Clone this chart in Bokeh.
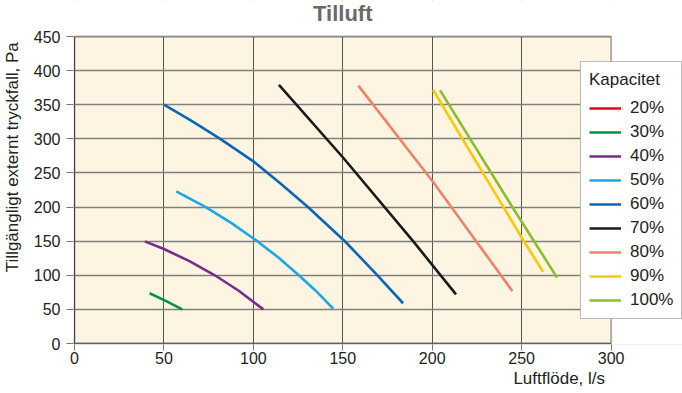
from bokeh.plotting import figure
from bokeh.models import Range1d, FixedTicker, BoxAnnotation, LinearAxis, Label
from bokeh.embed import file_html
from bokeh.resources import INLINE

# ---- data ----
cap_labels = ["20%", "30%", "40%", "50%", "60%", "70%", "80%", "90%", "100%"]
# 20 % has no curve inside the chart in the reference (legend entry only)
x20 = [float("nan")]
y20 = [float("nan")]
x30 = [42.0, 51.0, 60.2]
y30 = [73.6, 62.5, 50.0]
x40 = [39.3, 50.0, 64.0, 78.5, 92.0, 105.6]
y40 = [149.7, 138.5, 121.0, 100.0, 77.0, 50.0]
x50 = [56.9, 73.4, 88.0, 102.2, 114.0, 125.4, 135.0, 144.6]
y50 = [223.0, 200.0, 176.0, 150.0, 126.0, 100.0, 77.0, 51.0]
x60 = [50.0, 65.0, 81.5, 100.0, 115.0, 130.5, 151.3, 169.0, 183.7]
y60 = [350.0, 327.0, 300.0, 267.0, 235.0, 200.0, 149.5, 101.0, 59.0]
x70 = [114.3, 150.0, 189.3, 213.3]
y70 = [379.0, 273.0, 150.0, 72.0]
x80 = [158.7, 200.4, 244.8]
y80 = [378.0, 237.0, 77.0]
x90 = [200.4, 251.0, 262.0]
y90 = [372.0, 151.0, 105.0]
x100 = [204.4, 244.8, 269.8]
y100 = [371.0, 200.0, 96.6]

x_ticks = [0, 50, 100, 150, 200, 250, 300]
y_ticks = [0, 50, 100, 150, 200, 250, 300, 350, 400, 450]
x_min, x_max = 0, 300
y_min, y_max = 0, 450
x_title = "Luftflöde, l/s"
y_title = "Tillgängligt externt tryckfall, Pa"

series_x = [x20, x30, x40, x50, x60, x70, x80, x90, x100]
series_y = [y20, y30, y40, y50, y60, y70, y80, y90, y100]
colors = ["#e3061b", "#00924a", "#7d2a8e", "#1ea5e4", "#0a66b4",
          "#1a1a1a", "#f0826a", "#ffc800", "#8cbd2a"]

FONT = "Liberation Sans"
CREAM = "#fdf4e1"
TXT = "#222222"

# layout: plot box 541 x 306 px; frame extended 1px around it, to the top
# and to the right edge so the title and legend can sit as in the reference
W, H = 682, 393
box_left, box_right, box_top, box_bottom = 69, 610, 36, 343
sx = (box_right - box_left) / (x_max - x_min)
sy = (box_bottom - box_top) / (y_max - y_min)
fl, fr, ft, fb = box_left - 1, W, 0, box_bottom + 1
xr = Range1d(x_min - (box_left - fl) / sx, x_max + (fr - box_right) / sx)
yr = Range1d(y_min - (fb - box_bottom) / sy, y_max + (box_top - ft) / sy)

p = figure(width=W, height=H, output_backend="svg", toolbar_location=None,
           x_range=xr, y_range=yr,
           min_border_left=fl, min_border_right=W - fr, min_border_top=ft,
           min_border_bottom=H - fb)

p.border_fill_color = "#ffffff"
p.background_fill_color = "#ffffff"
p.outline_line_color = None

xa, ya = p.xaxis[0], p.yaxis[0]
for ax in (xa, ya):
    ax.axis_line_color = None
    ax.major_tick_line_color = "#777777"
    ax.major_tick_in = 0
    ax.minor_tick_line_color = None
    ax.major_label_text_font = FONT
    ax.major_label_text_font_size = "16px"
    ax.major_label_text_color = TXT

xa.bounds = (x_min, x_max)
ya.bounds = (y_min, y_max)
xa.major_tick_out = 6
xa.major_label_standoff = 1
ya.major_tick_out = 7
ya.major_label_standoff = 6
xa.ticker = FixedTicker(ticks=x_ticks)
ya.ticker = FixedTicker(ticks=y_ticks)


def title_axis(text, at, standoff, orientation):
    # an axis whose single tick label is the axis title, placed at `at`
    return LinearAxis(ticker=FixedTicker(ticks=[at]),
                      major_label_overrides={at: text},
                      major_label_orientation=orientation,
                      axis_line_color=None, major_tick_line_color=None,
                      minor_tick_line_color=None,
                      major_tick_in=0, major_tick_out=0,
                      major_label_text_font=FONT,
                      major_label_text_font_size="17px",
                      major_label_text_color=TXT,
                      major_label_standoff=standoff)


p.add_layout(title_axis(y_title, 273, 8, "parallel"), "left")
p.add_layout(title_axis(x_title, 271, 2, "horizontal"), "below")

# chart title
p.add_layout(Label(x=(x_min + x_max) / 2, y=y_max + (box_top - 13) / sy,
                   text="Tilluft", text_font=FONT, text_font_size="22px",
                   text_font_style="bold", text_color="#6a6a6a",
                   text_align="center", text_baseline="middle"))

# plot box background, grid, box border
p.add_layout(BoxAnnotation(left=x_min, right=x_max, bottom=y_min, top=y_max,
                           fill_color=CREAM, fill_alpha=1, line_color=None,
                           level="image"))
p.xgrid.grid_line_color = "#555555"
p.xgrid.grid_line_width = 1
p.ygrid.grid_line_color = "#808080"
p.ygrid.grid_line_width = 1.5
p.add_layout(BoxAnnotation(left=x_max, fill_color="#ffffff", fill_alpha=1,
                           line_color=None, level="underlay"))
p.add_layout(BoxAnnotation(bottom=y_max, fill_color="#ffffff", fill_alpha=1,
                           line_color=None, level="underlay"))
p.add_layout(BoxAnnotation(left=x_min, right=x_max, bottom=y_min, top=y_max,
                           fill_alpha=0, line_color="#111111", line_width=2,
                           level="underlay"))

for xs, ys, c, lab in zip(series_x, series_y, colors, cap_labels):
    p.line(xs, ys, line_color=c, line_width=2.6, line_join="round",
           legend_label=lab)

lg = p.legend[0]
lg.title = "Kapacitet"
lg.title_text_font = FONT
lg.title_text_font_size = "17px"
lg.title_text_font_style = "normal"
lg.title_text_color = TXT
lg.title_standoff = 8
lg.label_text_font = FONT
lg.label_text_font_size = "17px"
lg.label_text_color = TXT
lg.glyph_width = 32
lg.glyph_height = 20
lg.label_height = 20
lg.spacing = 4
lg.padding = 8
lg.margin = 0
lg.label_standoff = 9
lg.border_line_color = "#777777"
lg.border_line_width = 1
lg.background_fill_color = "#ffffff"
lg.background_fill_alpha = 1
lg.location = (507, 25)

open("out.html", "w").write(file_html(p, INLINE))
